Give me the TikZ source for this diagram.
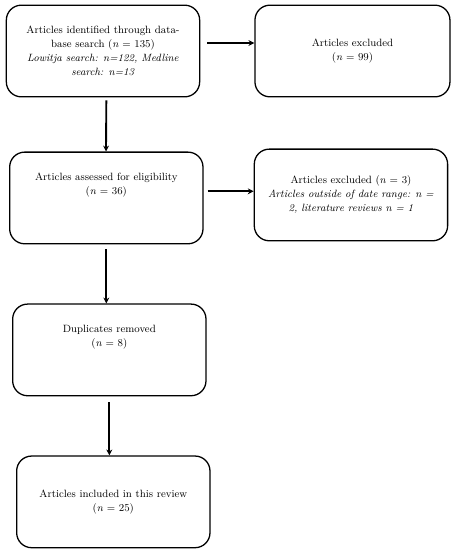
\documentclass[tikz,border=0pt]{standalone}
\usepackage{tikz}
\usetikzlibrary{arrows.meta, positioning}
\tikzstyle{stage} = [rectangle, rounded corners=0.45cm, minimum width=5.8cm, minimum height=2.75cm, text centered, align=center, draw=black, line width=1.1pt, font=\fontsize{9}{11.9}\selectfont]
\tikzstyle{arrow} = [line width=1.6pt, -{Stealth[length=5pt,width=5pt]}]

\begin{document}
\begin{tikzpicture}[node distance=1.62cm]
\useasboundingbox (0,0) rectangle (13.65,-16.5);

% Identification
\node (identified) [stage] at (3.09,-1.53) {Articles identified through data-\\base search (\textit{n} = 135)\\\textit{Lowitja search: n=122, Medline}\\\textit{search: n=13}};
\node (excluded-first) [stage, right=of identified, minimum width=5.85cm] {Articles excluded\\(\textit{n} = 99)};

% Eligibility
\node (assessed) [stage, below=of identified, xshift=0.1cm] {Articles assessed for eligibility\\(\textit{n} = 36)\\~\\~};
\node (excluded-second) [stage, right=of assessed, xshift=-0.12cm, yshift=0.09cm] {Articles excluded (\textit{n} = 3)\\\textit{Articles outside of date range: n =}\\\textit{2, literature reviews n = 1}};

% Duplicates
\node (duplicates) [stage, below=of assessed, yshift=-0.15cm, xshift=0.09cm] {Duplicates removed\\(\textit{n} = 8)\\~\\~};

% Included
\node (included) [stage, below=of duplicates, yshift=-0.15cm, xshift=0.12cm] {Articles included in this review\\(\textit{n} = 25)};

% Arrows
\draw [arrow] ([xshift=0.21cm, yshift=0.24cm]identified.east) -- ([yshift=0.24cm]identified.east -| excluded-first.west);
\draw [arrow] ([yshift=-0.09cm]assessed.north |- identified.south) -- ([xshift=-0.01cm]assessed.north);
\draw [arrow] ([xshift=0.12cm, yshift=0.2cm]assessed.east) -- ([yshift=0.2cm]assessed.east -| excluded-second.west);
\draw [arrow] ([yshift=-0.15cm]assessed.south) -- (assessed.south |- duplicates.north);
\draw [arrow] ([yshift=-0.18cm]duplicates.south) -- (duplicates.south |- included.north);

\end{tikzpicture}
\end{document}
